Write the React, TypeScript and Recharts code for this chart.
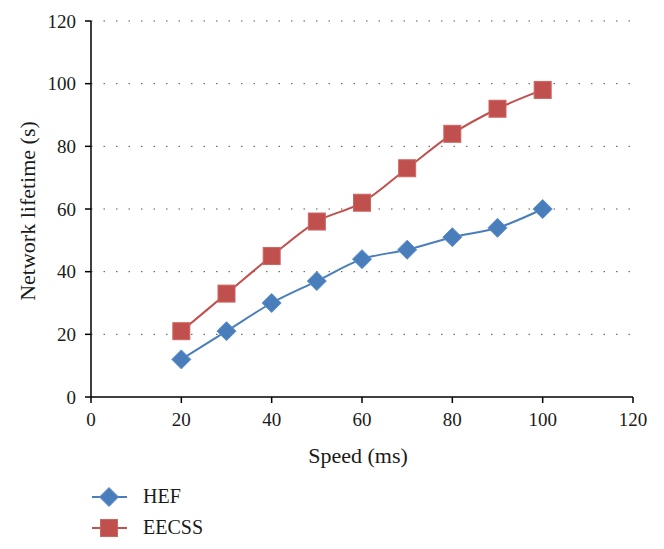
import { LineChart, Line, XAxis, YAxis, CartesianGrid } from "recharts";

const speeds = [20, 30, 40, 50, 60, 70, 80, 90, 100];
const hefLifetime = [12, 21, 30, 37, 44, 47, 51, 54, 60];
const eecssLifetime = [21, 33, 45, 56, 62, 73, 84, 92, 98];
const xTicks = [0, 20, 40, 60, 80, 100, 120];
const yTicks = [0, 20, 40, 60, 80, 100, 120];

const data = speeds.map((speed, i) => ({
  speed,
  hef: hefLifetime[i],
  eecss: eecssLifetime[i],
}));

const BLUE = "#4a7ebb";
const RED = "#c0504d";
const FONT = "'Liberation Serif', 'DejaVu Serif', serif";

function Diamond({ cx, cy }: { cx: number; cy: number }) {
  const r = 9.5;
  return (
    <polygon
      points={`${cx},${cy - r} ${cx + r},${cy} ${cx},${cy + r} ${cx - r},${cy}`}
      fill={BLUE}
      stroke="#5b8fd0"
      strokeWidth={1}
    />
  );
}

function Square({ cx, cy }: { cx: number; cy: number }) {
  const s = 17;
  return <rect x={cx - s / 2} y={cy - s / 2} width={s} height={s} fill={RED} stroke="#cf6561" strokeWidth={1} />;
}

const tickStyle = { fontFamily: FONT, fontSize: 19, fill: "#1a1a1a" };

export default function App() {
  return (
    <div style={{ position: "relative", width: 648, height: 533 }}>
      <LineChart width={648} height={470} data={data} margin={{ top: 13, right: 23, bottom: 0, left: 0 }}>
        <CartesianGrid vertical={false} stroke="#555" strokeDasharray="1.5 11" horizontalValues={[20, 40, 60, 80, 100, 120]} />
        <XAxis
          dataKey="speed"
          type="number"
          domain={[0, 120]}
          ticks={xTicks}
          height={81}
          tick={tickStyle}
          tickMargin={10}
          axisLine={{ stroke: "#000", strokeWidth: 1.5 }}
          tickLine={{ stroke: "#000", strokeWidth: 1.5 }}
          label={{
            content: () => (
              <text x={350} y={455} textAnchor="middle" fontFamily={FONT} fontSize={22} fill="#1a1a1a">
                Speed (ms)
              </text>
            ),
          }}
        />
        <YAxis
          type="number"
          domain={[0, 120]}
          ticks={yTicks}
          width={83}
          tick={tickStyle}
          tickMargin={9}
          axisLine={{ stroke: "#000", strokeWidth: 1.5 }}
          tickLine={{ stroke: "#000", strokeWidth: 1.5 }}
          label={{
            content: () => (
              <text
                x={27}
                y={203}
                textAnchor="middle"
                fontFamily={FONT}
                fontSize={22}
                fill="#1a1a1a"
                transform="rotate(-90, 27, 203)"
              >
                Network lifetime (s)
              </text>
            ),
          }}
        />
        <Line
          type="monotone"
          dataKey="hef"
          stroke={BLUE}
          strokeWidth={2}
          isAnimationActive={false}
          dot={(p: any) => <Diamond key={`h${p.index}`} cx={p.cx} cy={p.cy} />}
        />
        <Line
          type="monotone"
          dataKey="eecss"
          stroke={RED}
          strokeWidth={2}
          isAnimationActive={false}
          dot={(p: any) => <Square key={`e${p.index}`} cx={p.cx} cy={p.cy} />}
        />
      </LineChart>
      <svg width={300} height={60} style={{ position: "absolute", left: 0, top: 473 }}>
        <line x1={84} x2={119} y1={16} y2={16} stroke={BLUE} strokeWidth={2} />
        <Diamond cx={101} cy={16} />
        <text x={135} y={22} fontFamily={FONT} fontSize={20} fill="#1a1a1a">HEF</text>
        <line x1={84} x2={119} y1={47} y2={47} stroke={RED} strokeWidth={2} />
        <Square cx={101} cy={47} />
        <text x={135} y={53} fontFamily={FONT} fontSize={20} fill="#1a1a1a">EECSS</text>
      </svg>
    </div>
  );
}
